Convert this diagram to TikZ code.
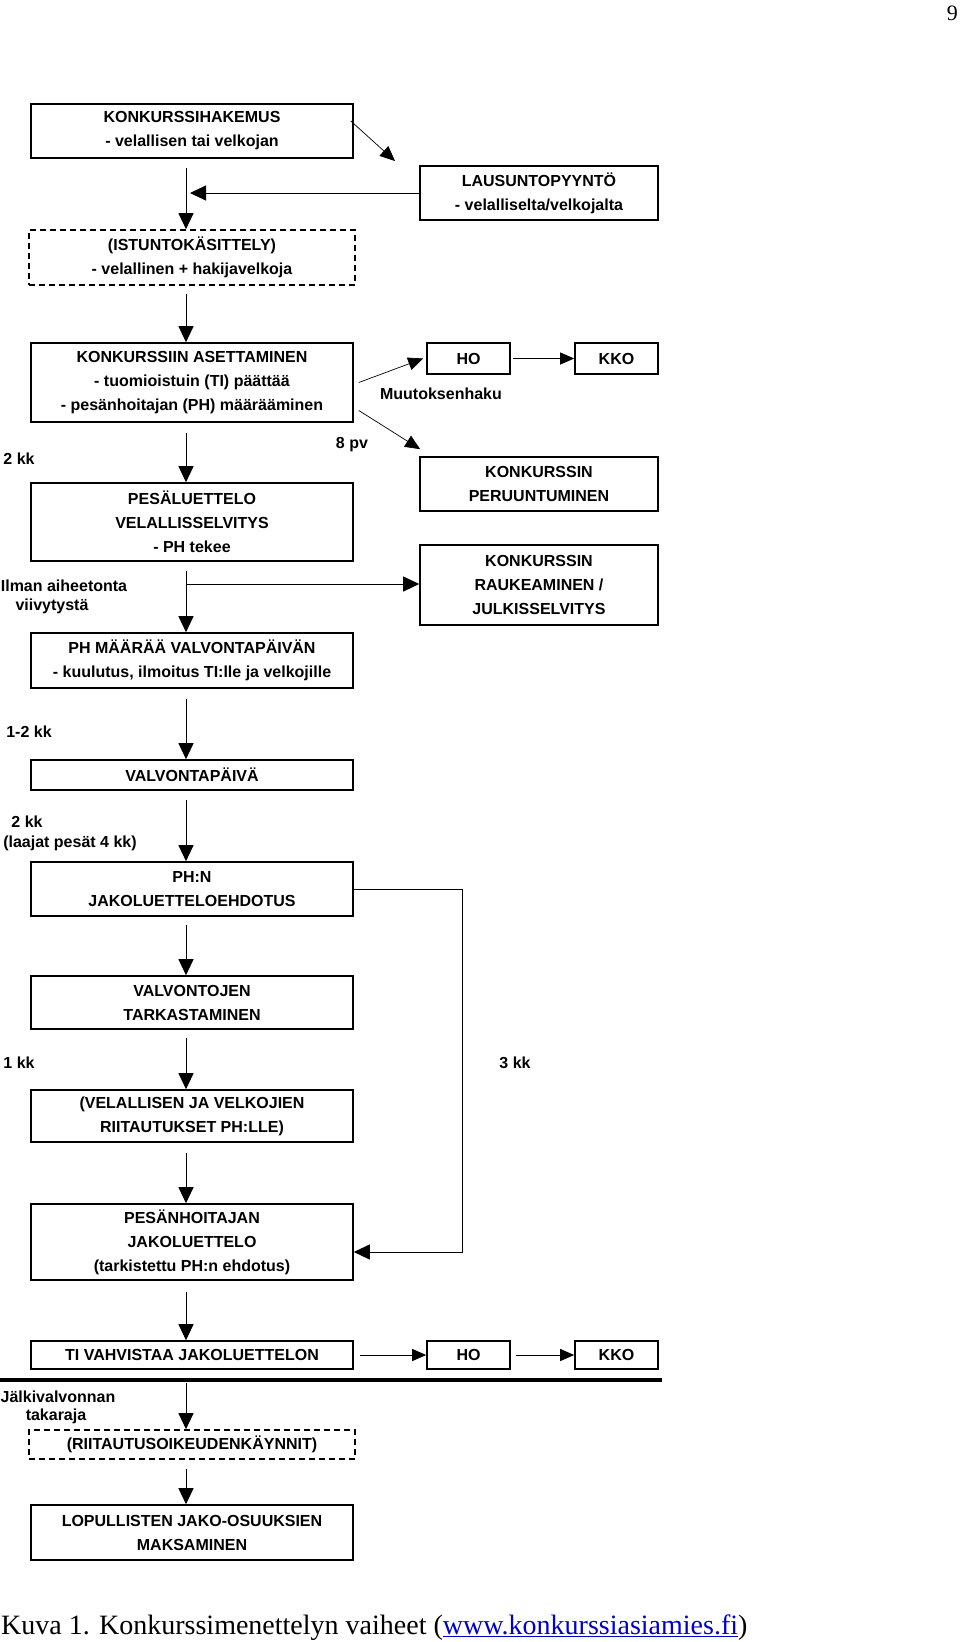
\documentclass[tikz,border=0pt]{standalone}
\usepackage{fontspec}
\setmainfont{Liberation Sans}
\newfontfamily\capfont{Liberation Serif}
\usetikzlibrary{arrows.meta}
\definecolor{linkblue}{RGB}{0,0,200}
\newcommand{\boxfont}{\bfseries\fontsize{16}{24}\selectfont}
\tikzset{
  box/.style={draw, line width=1.6pt, minimum width=322pt, inner sep=0pt, align=center, font=\boxfont},
  dbox/.style={box, dash pattern=on 6pt off 4pt, minimum width=326pt},
  sbox/.style={box, minimum width=238pt},
  hbox/.style={box, minimum width=83pt},
  arr/.style={line width=1pt, -{Triangle[width=15pt,length=16pt]}},
  sarr/.style={line width=1pt, -{Triangle[width=12pt,length=14pt]}},
  darr/.style={line width=0.7pt, -{Triangle[width=13pt,length=15pt]}},
  lbl/.style={font=\boxfont, inner sep=0pt},
}
\begin{document}
\begin{tikzpicture}[x=1pt,y=-1pt]
\useasboundingbox (0,0) rectangle (960,1642);
\coordinate (ax) at (186,0);
% main column boxes
\node[box, minimum height=54pt] (b1) at (192,131) {KONKURSSIHAKEMUS\\- velallisen tai velkojan};
\node[dbox, minimum height=55pt] (ist) at (192,257.5) {(ISTUNTOKÄSITTELY)\\- velallinen + hakijavelkoja};
\node[box, minimum height=79pt] (aset) at (192,382.5) {KONKURSSIIN ASETTAMINEN\\- tuomioistuin (TI) päättää\\- pesänhoitajan (PH) määrääminen};
\node[box, minimum height=78pt] (pesa) at (192,522) {PESÄLUETTELO\\VELALLISSELVITYS\\- PH tekee};
\node[box, minimum height=55pt] (phm) at (192,660.5) {PH MÄÄRÄÄ VALVONTAPÄIVÄN\\- kuulutus, ilmoitus TI:lle ja velkojille};
\node[box, minimum height=30pt] (val) at (192,775) {VALVONTAPÄIVÄ};
\node[box, minimum height=54pt] (phn) at (192,889) {PH:N\\JAKOLUETTELOEHDOTUS};
\node[box, minimum height=53pt] (valv) at (192,1002.5) {VALVONTOJEN\\TARKASTAMINEN};
\node[box, minimum height=52pt] (vel) at (192,1116) {(VELALLISEN JA VELKOJIEN\\RIITAUTUKSET PH:LLE)};
\node[box, minimum height=76pt] (pesh) at (192,1242) {PESÄNHOITAJAN\\JAKOLUETTELO\\(tarkistettu PH:n ehdotus)};
\node[box, minimum height=28pt] (ti) at (192,1355) {TI VAHVISTAA JAKOLUETTELON};
\node[dbox, minimum height=29pt] (riit) at (192,1444.5) {(RIITAUTUSOIKEUDENKÄYNNIT)};
\node[box, minimum height=55pt] (lop) at (192,1532.5) {LOPULLISTEN JAKO-OSUUKSIEN\\MAKSAMINEN};
% right column boxes
\node[sbox, minimum height=54pt] (lau) at (539,193) {LAUSUNTOPYYNTÖ\\- velalliselta/velkojalta};
\node[hbox, minimum height=31pt] (ho1) at (468.5,358.5) {HO};
\node[hbox, minimum height=31pt] (kko1) at (616.5,358.5) {KKO};
\node[sbox, minimum height=54pt] (per) at (539,484) {KONKURSSIN\\PERUUNTUMINEN};
\node[sbox, minimum height=80pt] (rau) at (539,585) {KONKURSSIN\\RAUKEAMINEN /\\JULKISSELVITYS};
\node[hbox, minimum height=28pt] (ho2) at (468.5,1355) {HO};
\node[hbox, minimum height=28pt] (kko2) at (616.5,1355) {KKO};
% labels
\node[lbl] (l1) at (441,394) {Muutoksenhaku};
\node[lbl] (l2) at (352,445) {8 pv};
\node[lbl] (l3) at (19,459) {2 kk};
\node[lbl] (l4) at (64,586) {Ilman aiheetonta};
\node[lbl] (l5) at (52,606) {viivytystä};
\node[lbl] (l6) at (29,732) {1-2 kk};
\node[lbl] (l7) at (27,822) {2 kk};
\node[lbl] (l8) at (70,843) {(laajat pesät 4 kk)};
\node[lbl] (l9) at (19,1063) {1 kk};
\node[lbl] (l10) at (515,1063) {3 kk};
\node[lbl] (l11) at (58,1397) {Jälkivalvonnan};
\node[lbl] (l12) at (56,1416) {takaraja};
% connectors
\coordinate (j1) at (190,0);
\coordinate (d1) at (395,161);
\coordinate (br) at (186,584);
\coordinate (fbt) at (462,889);
\coordinate (fbb) at (462,1252);
\draw[arr] ([yshift=-9pt]b1.south -| ax) -- (ist.north -| ax);
\draw[arr] (lau.west) -- (lau.west -| j1);
\draw[darr] ([xshift=-3pt,yshift=10pt]b1.east) -- (d1);
\draw[arr] ([yshift=-8pt]ist.south -| ax) -- (aset.north -| ax);
\draw[darr] ([xshift=5pt]aset.east) -- ([xshift=-3pt]ho1.west);
\draw[darr] ([xshift=5pt,yshift=-28pt]aset.east) -- ([shift={(1pt,7pt)}]per.north west);
\draw[sarr] ([xshift=2pt]ho1.east) -- (kko1.west);
\draw[arr] ([yshift=-10pt]aset.south -| ax) -- (pesa.north -| ax);
\draw[arr] ([yshift=-9pt]pesa.south -| ax) -- (phm.north -| ax);
\draw[arr] (br) -- (br -| rau.west);
\draw[arr] ([yshift=-10pt]phm.south -| ax) -- (val.north -| ax);
\draw[arr] ([yshift=-9pt]val.south -| ax) -- (phn.north -| ax);
\draw[arr] ([yshift=-8pt]phn.south -| ax) -- (valv.north -| ax);
\draw[arr] ([yshift=-8pt]valv.south -| ax) -- (vel.north -| ax);
\draw[arr] ([yshift=-10pt]vel.south -| ax) -- (pesh.north -| ax);
\draw[arr] (phn.east) -- (fbt) -- (fbb) -- (fbb -| pesh.east);
\draw[arr] ([yshift=-11pt]pesh.south -| ax) -- (ti.north -| ax);
\draw[sarr] ([xshift=6pt]ti.east) -- (ho2.west);
\draw[sarr] ([xshift=5pt]ho2.east) -- (kko2.west);
\draw[line width=4pt] (0,1380) -- (662,1380);
\draw[arr] ([yshift=-13pt]ti.south -| ax) -- (riit.north -| ax);
\draw[arr] ([yshift=-9pt]riit.south -| ax) -- (lop.north -| ax);
% page number and caption
\node[inner sep=0pt, anchor=base east] (pg) at (958,20) {\capfont\fontsize{22}{26}\selectfont 9};
\node[inner sep=0pt, anchor=base west] (cap) at (1,1634) {\capfont\fontsize{28}{32}\selectfont Kuva 1. Konkurssimenettelyn vaiheet (\textcolor{linkblue}{\underline{www.konkurssiasiamies.fi}})};
\end{tikzpicture}
\end{document}
